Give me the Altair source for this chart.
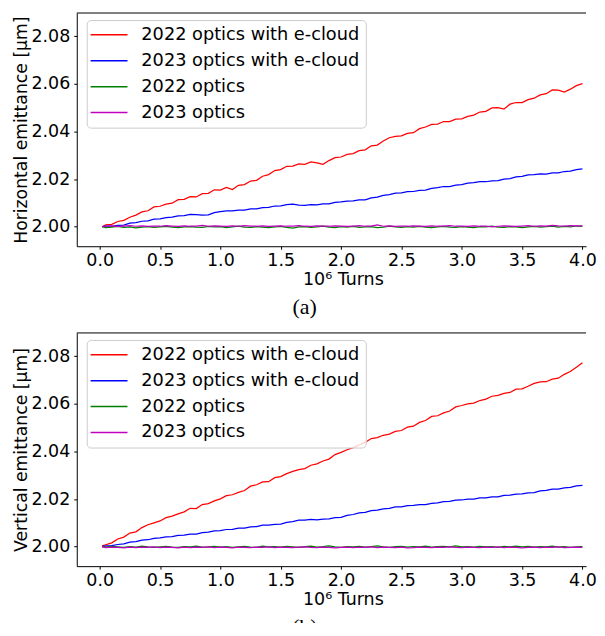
import altair as alt
import pandas as pd

# sample positions (10^6 turns)
turns = [0.02] + [round(0.05 * i, 2) for i in range(1, 81)]

series_names = ["2022 optics with e-cloud", "2023 optics with e-cloud", "2022 optics", "2023 optics"]
series_colors = ["#ff0000", "#0000ff", "#008000", "#bf00bf"]

x_ticks = [0.0, 0.5, 1.0, 1.5, 2.0, 2.5, 3.0, 3.5, 4.0]
y_ticks = [2.00, 2.02, 2.04, 2.06, 2.08]

# ---- panel (a): horizontal emittance [um]
h_red = [2.0000, 2.0008, 2.0010, 2.0022, 2.0027, 2.0040, 2.0049, 2.0062, 2.0067, 2.0083,
         2.0086, 2.0095, 2.0099, 2.0114, 2.0115, 2.0126, 2.0125, 2.0139, 2.0140, 2.0155,
         2.0154, 2.0165, 2.0156, 2.0174, 2.0177, 2.0192, 2.0195, 2.0212, 2.0219, 2.0236,
         2.0240, 2.0254, 2.0255, 2.0264, 2.0262, 2.0272, 2.0268, 2.0262, 2.0278, 2.0290,
         2.0293, 2.0304, 2.0307, 2.0320, 2.0323, 2.0340, 2.0343, 2.0360, 2.0374, 2.0380,
         2.0382, 2.0392, 2.0395, 2.0412, 2.0419, 2.0430, 2.0431, 2.0442, 2.0442, 2.0452,
         2.0453, 2.0464, 2.0469, 2.0482, 2.0485, 2.0499, 2.0500, 2.0494, 2.0515, 2.0522,
         2.0522, 2.0534, 2.0540, 2.0554, 2.0559, 2.0575, 2.0574, 2.0566, 2.0578, 2.0593,
         2.0601]
h_blue = [2.0000, 2.0002, 2.0002, 2.0006, 2.0007, 2.0015, 2.0017, 2.0023, 2.0025, 2.0032,
          2.0033, 2.0038, 2.0040, 2.0046, 2.0047, 2.0052, 2.0051, 2.0049, 2.0050, 2.0059,
          2.0063, 2.0067, 2.0067, 2.0070, 2.0070, 2.0075, 2.0075, 2.0080, 2.0081, 2.0087,
          2.0088, 2.0093, 2.0095, 2.0091, 2.0090, 2.0093, 2.0092, 2.0096, 2.0096, 2.0102,
          2.0104, 2.0108, 2.0109, 2.0113, 2.0113, 2.0121, 2.0124, 2.0132, 2.0135, 2.0141,
          2.0142, 2.0147, 2.0148, 2.0153, 2.0154, 2.0161, 2.0164, 2.0169, 2.0169, 2.0175,
          2.0177, 2.0183, 2.0185, 2.0189, 2.0189, 2.0193, 2.0194, 2.0200, 2.0202, 2.0209,
          2.0212, 2.0218, 2.0219, 2.0222, 2.0221, 2.0226, 2.0226, 2.0232, 2.0234, 2.0240,
          2.0243]
h_green = [2.0000, 1.9996, 1.9998, 2.0001, 1.9997, 1.9999, 1.9995, 1.9998, 2.0000, 1.9997,
           1.9999, 2.0001, 1.9998, 1.9996, 1.9999, 2.0000, 1.9998, 1.9997, 2.0001, 1.9999,
           2.0000, 1.9996, 1.9999, 2.0002, 1.9998, 1.9997, 2.0000, 1.9998, 1.9996, 1.9999,
           2.0001, 1.9997, 1.9994, 1.9999, 2.0000, 1.9997, 1.9999, 2.0002, 1.9998, 1.9996,
           2.0000, 1.9998, 2.0001, 1.9997, 1.9999, 2.0000, 1.9996, 1.9998, 2.0002, 1.9999,
           1.9997, 2.0000, 1.9998, 2.0001, 1.9998, 1.9996, 1.9999, 2.0001, 1.9998, 1.9997,
           2.0000, 1.9998, 1.9996, 2.0000, 1.9999, 2.0002, 1.9998, 1.9997, 2.0000, 1.9999,
           1.9996, 1.9999, 2.0001, 1.9998, 2.0000, 2.0002, 1.9998, 2.0001, 1.9999, 2.0003,
           2.0001]
h_magenta = [2.0000, 2.0002, 2.0004, 2.0001, 2.0003, 2.0005, 2.0002, 2.0004, 2.0001, 2.0003,
             2.0002, 2.0005, 2.0003, 2.0001, 2.0004, 2.0002, 2.0003, 2.0006, 2.0002, 2.0004,
             2.0003, 2.0001, 2.0004, 2.0002, 2.0005, 2.0003, 2.0002, 2.0004, 2.0001, 2.0003,
             2.0004, 2.0002, 2.0003, 2.0005, 2.0002, 2.0001, 2.0004, 2.0003, 2.0002, 2.0004,
             2.0003, 2.0001, 2.0003, 2.0005, 2.0002, 2.0003, 2.0008, 2.0002, 2.0004, 2.0001,
             2.0003, 2.0002, 2.0004, 2.0003, 2.0001, 2.0004, 2.0002, 2.0003, 2.0005, 2.0002,
             2.0003, 2.0001, 2.0004, 2.0002, 2.0003, 1.9999, 2.0002, 2.0004, 2.0003, 2.0001,
             2.0003, 2.0005, 2.0002, 2.0004, 2.0003, 2.0006, 2.0004, 2.0003, 2.0005, 2.0004,
             2.0004]

# ---- panel (b): vertical emittance [um]
v_red = [2.0003, 2.0008, 2.0016, 2.0032, 2.0040, 2.0057, 2.0062, 2.0080, 2.0092, 2.0100,
         2.0108, 2.0122, 2.0128, 2.0138, 2.0146, 2.0161, 2.0160, 2.0177, 2.0181, 2.0192,
         2.0201, 2.0214, 2.0218, 2.0228, 2.0236, 2.0254, 2.0260, 2.0272, 2.0273, 2.0290,
         2.0294, 2.0307, 2.0316, 2.0324, 2.0328, 2.0342, 2.0348, 2.0360, 2.0368, 2.0387,
         2.0396, 2.0407, 2.0416, 2.0427, 2.0438, 2.0454, 2.0458, 2.0468, 2.0473, 2.0484,
         2.0488, 2.0502, 2.0506, 2.0522, 2.0530, 2.0547, 2.0550, 2.0562, 2.0570, 2.0587,
         2.0593, 2.0600, 2.0603, 2.0614, 2.0620, 2.0632, 2.0636, 2.0644, 2.0648, 2.0662,
         2.0663, 2.0674, 2.0686, 2.0692, 2.0693, 2.0704, 2.0708, 2.0724, 2.0736, 2.0754,
         2.0773]
v_blue = [2.0000, 2.0003, 2.0004, 2.0009, 2.0012, 2.0019, 2.0021, 2.0027, 2.0029, 2.0035,
          2.0037, 2.0041, 2.0042, 2.0047, 2.0048, 2.0053, 2.0053, 2.0059, 2.0061, 2.0066,
          2.0067, 2.0072, 2.0073, 2.0078, 2.0078, 2.0083, 2.0084, 2.0090, 2.0090, 2.0094,
          2.0095, 2.0102, 2.0105, 2.0111, 2.0111, 2.0115, 2.0112, 2.0116, 2.0117, 2.0122,
          2.0123, 2.0131, 2.0135, 2.0142, 2.0144, 2.0151, 2.0153, 2.0159, 2.0161, 2.0167,
          2.0167, 2.0172, 2.0173, 2.0177, 2.0177, 2.0182, 2.0184, 2.0189, 2.0190, 2.0195,
          2.0196, 2.0200, 2.0200, 2.0205, 2.0205, 2.0209, 2.0209, 2.0215, 2.0216, 2.0221,
          2.0222, 2.0226, 2.0227, 2.0234, 2.0236, 2.0242, 2.0242, 2.0247, 2.0249, 2.0255,
          2.0257]
v_green = [2.0000, 1.9998, 2.0001, 1.9999, 1.9997, 2.0000, 1.9998, 2.0002, 1.9999, 1.9997,
           1.9999, 2.0001, 1.9998, 1.9997, 2.0000, 1.9999, 2.0002, 1.9998, 1.9999, 2.0001,
           1.9998, 2.0000, 1.9997, 1.9999, 2.0001, 1.9998, 1.9997, 2.0002, 1.9999, 2.0000,
           1.9998, 2.0001, 1.9999, 1.9997, 2.0000, 2.0002, 1.9998, 2.0000, 2.0003, 1.9999,
           1.9997, 2.0000, 1.9999, 2.0001, 1.9998, 2.0000, 2.0003, 1.9999, 1.9997, 2.0000,
           2.0001, 1.9998, 2.0000, 1.9999, 2.0002, 1.9998, 2.0000, 2.0001, 1.9999, 2.0003,
           1.9999, 2.0000, 1.9998, 2.0001, 1.9999, 2.0000, 1.9997, 2.0001, 1.9999, 2.0002,
           1.9999, 2.0001, 1.9998, 2.0000, 1.9999, 2.0002, 1.9998, 2.0000, 1.9997, 1.9999,
           2.0000]
v_magenta = [2.0000, 1.9996, 1.9998, 1.9997, 1.9995, 1.9998, 1.9996, 1.9998, 1.9997, 1.9999,
             1.9996, 1.9998, 1.9997, 1.9995, 1.9998, 1.9996, 1.9998, 1.9997, 1.9999, 1.9996,
             1.9998, 1.9997, 1.9995, 1.9998, 1.9997, 1.9996, 1.9998, 1.9997, 1.9999, 1.9996,
             1.9998, 1.9997, 1.9996, 1.9998, 1.9999, 1.9997, 1.9996, 1.9998, 1.9997, 1.9995,
             1.9997, 1.9998, 1.9996, 1.9998, 1.9997, 1.9999, 1.9996, 1.9998, 1.9997, 1.9996,
             1.9998, 1.9995, 1.9996, 1.9998, 1.9997, 1.9996, 1.9998, 1.9997, 1.9999, 1.9997,
             1.9996, 1.9998, 1.9997, 1.9996, 1.9998, 1.9997, 1.9999, 1.9996, 1.9998, 1.9997,
             1.9995, 1.9997, 1.9998, 1.9996, 1.9998, 1.9997, 1.9999, 1.9996, 1.9997, 1.9998,
             1.9997]

W = 511
H = 234
x_domain = [-0.19, 4.03]
y_domain = [1.9918, 2.0898]
FONT = "DejaVu Sans"
FS = 17.5


def panel(series_values, ytitle, caption):
    rows = []
    for name, vals in zip(series_names, series_values):
        for t, v in zip(turns, vals):
            rows.append({"turns": t, "emit": v, "series": name})
    df = pd.DataFrame(rows)

    lines = alt.Chart(df).mark_line(strokeWidth=1.25, clip=True).encode(
        x=alt.X("turns:Q",
                scale=alt.Scale(domain=x_domain, nice=False, zero=False),
                axis=alt.Axis(values=x_ticks, format=".1f", title="10⁶ Turns",
                              tickSize=3, labelPadding=2, titlePadding=2, titleX=267)),
        y=alt.Y("emit:Q",
                scale=alt.Scale(domain=y_domain, nice=False, zero=False),
                axis=alt.Axis(values=y_ticks, format=".2f", title=ytitle,
                              tickSize=3, labelPadding=4, titlePadding=0,
                              titleFontSize=17.3)),
        color=alt.Color("series:N",
                        scale=alt.Scale(domain=series_names, range=series_colors),
                        legend=alt.Legend(title=None, orient="none", legendX=10, legendY=7,
                                          padding=6, fillColor="rgba(255,255,255,0.8)",
                                          strokeColor="#cccccc", cornerRadius=4,
                                          symbolType="M-2.2,0H5.2", symbolSize=100,
                                          symbolStrokeWidth=1.5, labelFontSize=17.8,
                                          labelFont=FONT, labelColor="black",
                                          labelOffset=31, rowPadding=7, labelLimit=400)),
    )
    top = alt.Chart(pd.DataFrame({"a": [0]})).mark_rule(color="black", strokeWidth=1).encode(
        x=alt.value(0), x2=alt.value(W), y=alt.value(0)
    )
    return alt.layer(lines, top).properties(
        width=W, height=H,
        title=alt.TitleParams(text=caption, orient="bottom", anchor="middle", frame="bounds",
                              font="Liberation Serif", fontSize=22, fontWeight="normal",
                              color="black", offset=9),
    )


pa = panel([h_red, h_blue, h_green, h_magenta], "Horizontal emittance [μm]", "(a)")
pb = panel([v_red, v_blue, v_green, v_magenta], "Vertical emittance [μm]", "(b)")

chart = alt.vconcat(pa, pb, spacing=13).resolve_legend(color="independent").properties(
    padding={"left": 4, "top": 3, "right": 0, "bottom": -17}
).configure_axis(
    labelFont=FONT, labelFontSize=FS, titleFont=FONT, titleFontSize=FS,
    titleFontWeight="normal", labelColor="black", titleColor="black",
    tickColor="black", domainColor="black", grid=False,
).configure_legend(
    strokeColor="#cccccc", fillColor="rgba(255,255,255,0.8)", cornerRadius=4, padding=6,
).configure_view(stroke="transparent")

chart.save("out.html", embed_options={"renderer": "svg", "actions": False})
